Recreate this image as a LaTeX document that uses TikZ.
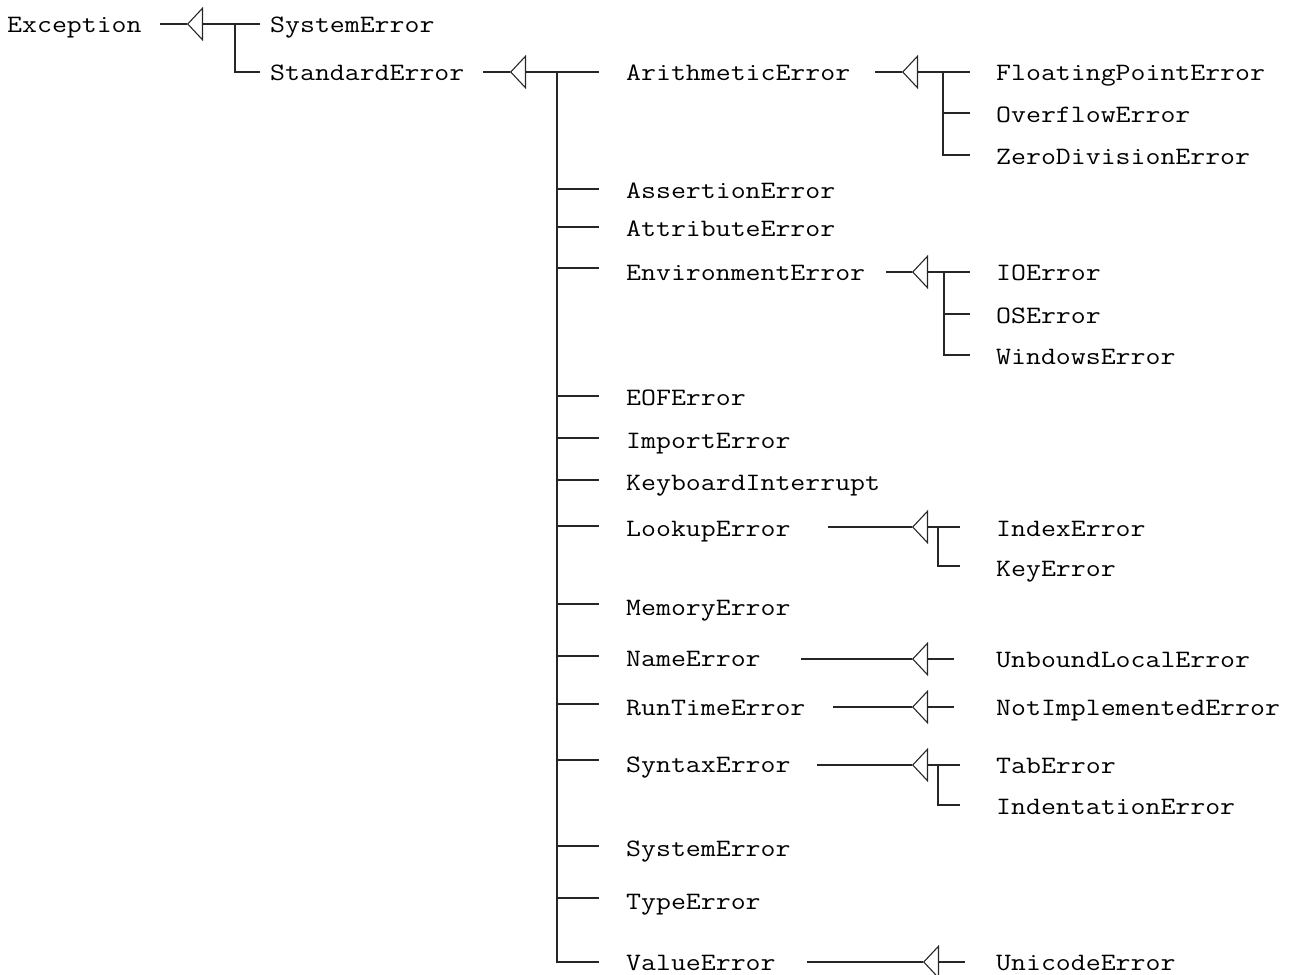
\documentclass[tikz,border=0pt]{standalone}
\usepackage{fontspec}
\usepackage{graphicx}
\usetikzlibrary{arrows.meta}
\newcommand{\wt}[1]{\scalebox{1.16}[1]{#1}}
\tikzset{
  lbl/.style={anchor=base west, inner sep=0pt, font=\ttfamily\fontsize{25}{29}\selectfont},
  ln/.style={line width=1.1pt, draw=black!85},
  inh/.style={ln, -{Triangle[open,length=16pt,width=34pt]}},
}
\begin{document}
\begin{tikzpicture}[x=1pt,y=-1pt]
\useasboundingbox (0,0) rectangle (1289,974);
% labels
\node[lbl] (exc)   at (7,33)    {\wt{Exception}};
\node[lbl] (sys1)  at (270,33)  {\wt{SystemError}};
\node[lbl] (std)   at (270,81)  {\wt{StandardError}};
\node[lbl] (ari)   at (626,81)  {\wt{ArithmeticError}};
\node[lbl] (fpe)   at (996,81)  {\wt{FloatingPointError}};
\node[lbl] (ovf)   at (996,122) {\wt{OverflowError}};
\node[lbl] (zde)   at (996,164) {\wt{ZeroDivisionError}};
\node[lbl] (ase)   at (626,198) {\wt{AssertionError}};
\node[lbl] (ate)   at (626,236) {\wt{AttributeError}};
\node[lbl] (env)   at (626,280) {\wt{EnvironmentError}};
\node[lbl] (ioe)   at (996,280) {\wt{IOError}};
\node[lbl] (ose)   at (996,323) {\wt{OSError}};
\node[lbl] (wie)   at (996,364) {\wt{WindowsError}};
\node[lbl] (eof)   at (626,405) {\wt{EOFError}};
\node[lbl] (imp)   at (626,448) {\wt{ImportError}};
\node[lbl] (kbd)   at (626,490) {\wt{KeyboardInterrupt}};
\node[lbl] (lku)   at (626,536) {\wt{LookupError}};
\node[lbl] (idx)   at (996,536) {\wt{IndexError}};
\node[lbl] (key)   at (996,576) {\wt{KeyError}};
\node[lbl] (mem)   at (626,615) {\wt{MemoryError}};
\node[lbl] (nme)   at (626,666) {\wt{NameError}};
\node[lbl] (ule)   at (996,667) {\wt{UnboundLocalError}};
\node[lbl] (rte)   at (626,715) {\wt{RunTimeError}};
\node[lbl] (nie)   at (996,715) {\wt{NotImplementedError}};
\node[lbl] (syn)   at (626,772) {\wt{SyntaxError}};
\node[lbl] (tab)   at (996,773) {\wt{TabError}};
\node[lbl] (ind)   at (996,814) {\wt{IndentationError}};
\node[lbl] (sys2)  at (626,856) {\wt{SystemError}};
\node[lbl] (tye)   at (626,909) {\wt{TypeError}};
\node[lbl] (vae)   at (626,970) {\wt{ValueError}};
\node[lbl] (uni)   at (996,970) {\wt{UnicodeError}};

% Exception
\coordinate (excT) at (187,24);
\draw[ln] (160,24) -- (excT);
\draw[inh] (260,24) -- (excT);
\draw[ln] (235,24) |- (260,72);

% StandardError
\coordinate (stdT) at (510,72);
\draw[ln] (483,72) -- (stdT);
\draw[inh] (599,72) -- (stdT);
\draw[ln] (557,72) |- (599,962);
\foreach \yy in {189,227,268,396,438,480,526,604,656,704,760,846,898}
  \draw[ln] (557,\yy) -- (599,\yy);

% ArithmeticError
\coordinate (ariT) at (902,72);
\draw[ln] (875,72) -- (ariT);
\draw[inh] (970,72) -- (ariT);
\draw[ln] (943,72) |- (970,155);
\draw[ln] (943,113) -- (970,113);

% EnvironmentError
\coordinate (envT) at (912,272);
\draw[ln] (886,272) -- (envT);
\draw[inh] (970,272) -- (envT);
\draw[ln] (944,272) |- (970,355);
\draw[ln] (944,314) -- (970,314);

% LookupError
\coordinate (lkuT) at (912,527);
\draw[ln] (828,527) -- (lkuT);
\draw[inh] (960,527) -- (lkuT);
\draw[ln] (938,527) |- (960,566);

% NameError
\coordinate (nmeT) at (912,659);
\draw[ln] (801,659) -- (nmeT);
\draw[inh] (954,659) -- (nmeT);

% RunTimeError
\coordinate (rteT) at (912,707);
\draw[ln] (833,707) -- (rteT);
\draw[inh] (954,707) -- (rteT);

% SyntaxError
\coordinate (synT) at (912,765);
\draw[ln] (817,765) -- (synT);
\draw[inh] (960,765) -- (synT);
\draw[ln] (938,765) |- (960,805);

% ValueError
\coordinate (vaeT) at (923,962);
\draw[ln] (807,962) -- (vaeT);
\draw[inh] (965,962) -- (vaeT);
\end{tikzpicture}
\end{document}
